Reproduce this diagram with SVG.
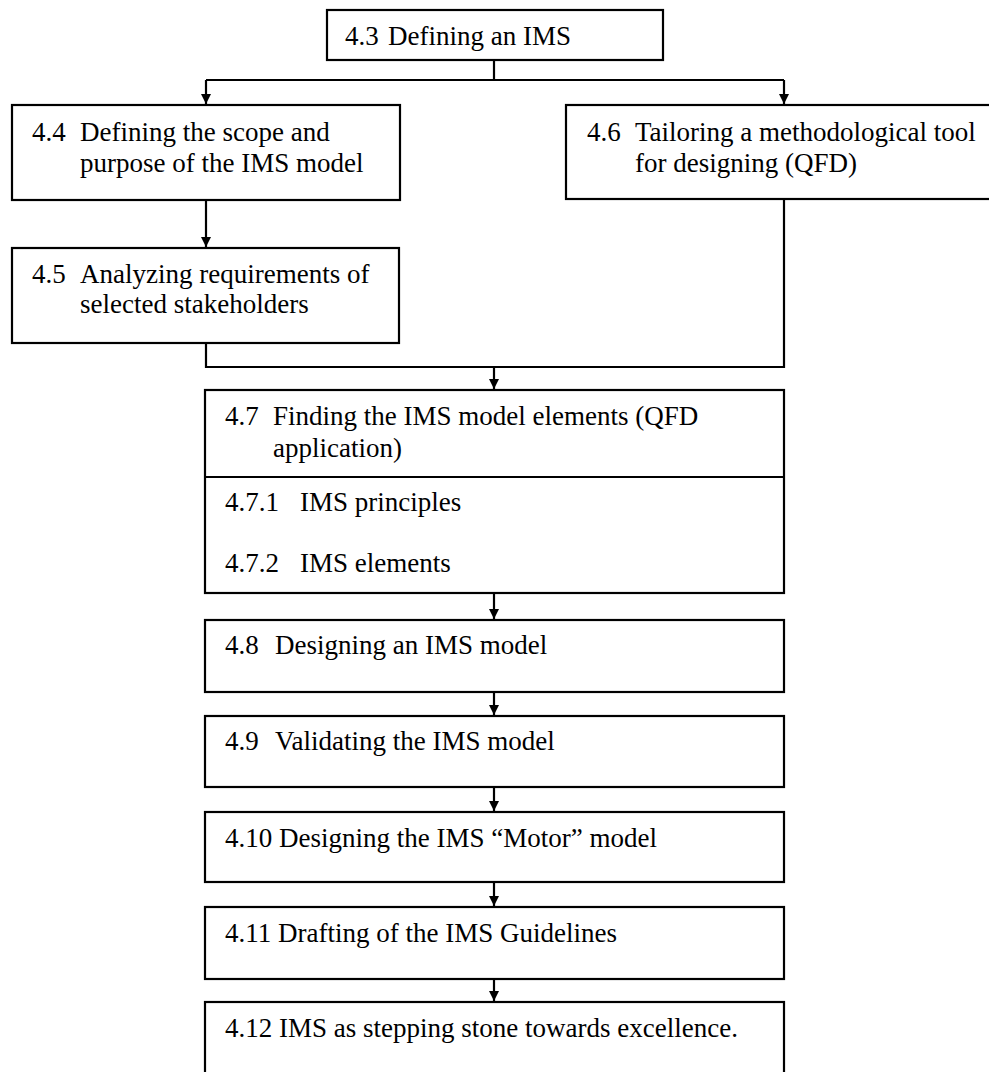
<svg xmlns="http://www.w3.org/2000/svg" width="989" height="1072" viewBox="0 0 989 1072">
  <style>
    .box { fill: #ffffff; stroke: #000000; stroke-width: 2.2; }
    .lbl { font-family: "Liberation Serif", "Times New Roman", serif; font-size: 27px; fill: #000000; }
    .wire { fill: none; stroke: #000000; stroke-width: 2.2; }
  </style>
  <defs>
    <marker id="arrow" viewBox="0 0 10 10" refX="10" refY="5" markerWidth="10" markerHeight="10" markerUnits="userSpaceOnUse" orient="auto">
      <path d="M0,0 L10,5 L0,10 Z" fill="#000000"/>
    </marker>
  </defs>
  <rect width="989" height="1072" fill="#ffffff"/>

  <!-- connectors -->
  <g id="connectors">
    <path class="wire" d="M494,60 V80"/>
    <path class="wire" d="M206,80 H784"/>
    <path class="wire" d="M206,80 V104" marker-end="url(#arrow)"/>
    <path class="wire" d="M784,80 V104" marker-end="url(#arrow)"/>
    <path class="wire" d="M206,200 V247" marker-end="url(#arrow)"/>
    <path class="wire" d="M206,343 V367 H784 V199"/>
    <path class="wire" d="M494,367 V389" marker-end="url(#arrow)"/>
    <path class="wire" d="M494,593 V619" marker-end="url(#arrow)"/>
    <path class="wire" d="M494,692 V715" marker-end="url(#arrow)"/>
    <path class="wire" d="M494,787 V811" marker-end="url(#arrow)"/>
    <path class="wire" d="M494,882 V906" marker-end="url(#arrow)"/>
    <path class="wire" d="M494,979 V1001" marker-end="url(#arrow)"/>
  </g>

  <g id="n43">
    <rect class="box" x="327" y="10" width="336" height="50"/>
    <text class="lbl" x="345" y="45">4.3</text>
    <text class="lbl" x="388" y="45">Defining an IMS</text>
  </g>

  <g id="n44">
    <rect class="box" x="12" y="105" width="388" height="95"/>
    <text class="lbl" x="32" y="141">4.4</text>
    <text class="lbl" x="80" y="141">Defining the scope and</text>
    <text class="lbl" x="80" y="172">purpose of the IMS model</text>
  </g>

  <g id="n46">
    <rect class="box" x="566" y="105" width="430" height="94"/>
    <text class="lbl" x="587" y="141">4.6</text>
    <text class="lbl" x="635" y="141">Tailoring a methodological tool</text>
    <text class="lbl" x="635" y="172">for designing (QFD)</text>
  </g>

  <g id="n45">
    <rect class="box" x="12" y="248" width="387" height="95"/>
    <text class="lbl" x="32" y="283">4.5</text>
    <text class="lbl" x="80" y="283">Analyzing requirements of</text>
    <text class="lbl" x="80" y="313">selected stakeholders</text>
  </g>

  <g id="n47">
    <rect class="box" x="205" y="390" width="579" height="203"/>
    <path class="wire" d="M205,477 H784"/>
    <text class="lbl" x="225" y="425">4.7</text>
    <text class="lbl" x="273" y="425">Finding the IMS model elements (QFD</text>
    <text class="lbl" x="273" y="457">application)</text>
    <text class="lbl" x="225" y="511">4.7.1</text>
    <text class="lbl" x="300" y="511">IMS principles</text>
    <text class="lbl" x="225" y="572">4.7.2</text>
    <text class="lbl" x="300" y="572">IMS elements</text>
  </g>

  <g id="n48">
    <rect class="box" x="205" y="620" width="579" height="72"/>
    <text class="lbl" x="225" y="654">4.8</text>
    <text class="lbl" x="275" y="654">Designing an IMS model</text>
  </g>

  <g id="n49">
    <rect class="box" x="205" y="716" width="579" height="71"/>
    <text class="lbl" x="225" y="750">4.9</text>
    <text class="lbl" x="275" y="750">Validating the IMS model</text>
  </g>

  <g id="n410">
    <rect class="box" x="205" y="812" width="579" height="70"/>
    <text class="lbl" x="225" y="847">4.10 Designing the IMS “Motor” model</text>
  </g>

  <g id="n411">
    <rect class="box" x="205" y="907" width="579" height="72"/>
    <text class="lbl" x="225" y="942">4.11 Drafting of the IMS Guidelines</text>
  </g>

  <g id="n412">
    <rect class="box" x="205" y="1002" width="579" height="80"/>
    <text class="lbl" x="225" y="1037">4.12 IMS as stepping stone towards excellence.</text>
  </g>
</svg>
